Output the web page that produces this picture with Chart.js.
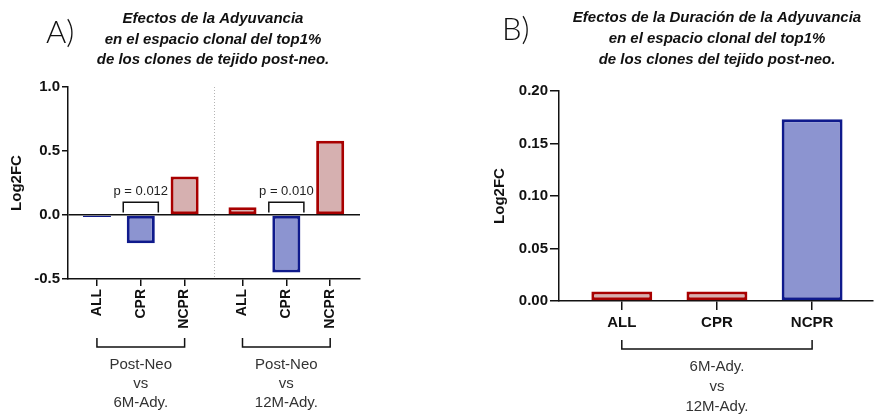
<!DOCTYPE html>
<html>
<head>
<meta charset="utf-8">
<script src="https://cdn.jsdelivr.net/npm/chart.js@4"></script>
<style>
  body { margin: 0; background: #fff; width: 885px; height: 414px; position: relative; overflow: hidden; }
  canvas { position: absolute; top: 0; }
  #chartA { left: 0; }
  #chartB { left: 440px; }
</style>
</head>
<body>
<canvas id="chartA" width="440" height="414"></canvas>
<canvas id="chartB" width="445" height="414"></canvas>
<script>
// ---- panel A data ----
const labelsA = ['ALL', 'CPR', 'NCPR', 'ALL', 'CPR', 'NCPR'];
const valuesA = [-0.015, -0.22, 0.30, 0.06, -0.45, 0.58];
const groupsA = [['Post-Neo', 'vs', '6M-Ady.'], ['Post-Neo', 'vs', '12M-Ady.']];
const pValuesA = ['p = 0.012', 'p = 0.010'];
const yTicksA = [-0.5, 0, 0.5, 1.0];
const titleA = ['Efectos de la Adyuvancia', 'en el espacio clonal del top1%', 'de los clones de tejido post-neo.'];

// ---- panel B data ----
const labelsB = ['ALL', 'CPR', 'NCPR'];
const valuesB = [0.009, 0.009, 0.173];
const groupB = ['6M-Ady.', 'vs', '12M-Ady.'];
const yTicksB = [0, 0.05, 0.10, 0.15, 0.20];
const titleB = ['Efectos de la Duración de la Adyuvancia', 'en el espacio clonal del top1%', 'de los clones del tejido post-neo.'];

// styles
const red = { fill: '#d6b0b0', line: '#a80000' };
const blue = { fill: '#8c94d0', line: '#0f1a8c' };
const coloursA = [blue, blue, red, red, blue, red];
const coloursB = [red, red, blue];

const FONT = '"Liberation Sans", Arial, sans-serif';
Chart.defaults.font.family = FONT;
Chart.defaults.color = '#111';

// x positions: bars 1 unit apart, second group shifted
const GROUP_SHIFT = 3.32;
const posA = labelsA.map((_, i) => Math.floor(i / 3) * GROUP_SHIFT + (i % 3));
const posB = labelsB.map((_, i) => i);

const extras = {
  id: 'extras',
  afterDraw(chart, args, o) {
    const { ctx, chartArea: a, scales: { x, y } } = chart;
    ctx.save();
    ctx.fillStyle = '#111';
    ctx.font = '300 31px Lato, "DejaVu Sans", sans-serif';
    ctx.textAlign = 'left';
    ctx.textBaseline = 'alphabetic';
    ctx.fillText(o.letter, o.letterX, o.letterY);

    ctx.font = 'italic bold 15px ' + FONT;
    ctx.textAlign = 'center';
    o.title.forEach((t, i) => ctx.fillText(t, o.titleX, o.titleY + i * o.titleStep));

    if (o.separator != null) {
      const sx = Math.round(x.getPixelForValue(o.separator)) + 0.5;
      ctx.strokeStyle = '#b4b4b4';
      ctx.lineWidth = 1;
      ctx.setLineDash([1, 2]);
      ctx.beginPath(); ctx.moveTo(sx, a.top); ctx.lineTo(sx, a.bottom); ctx.stroke();
      ctx.setLineDash([]);
    }

    ctx.strokeStyle = '#111';
    ctx.lineWidth = 1.5;
    const unit = x.getPixelForValue(1) - x.getPixelForValue(0);
    (o.pBrackets || []).forEach(b => {
      const cx = x.getPixelForValue(b.at);
      const x0 = cx - unit * 0.4, x1 = cx + unit * 0.4;
      const top = y.getPixelForValue(0.1), foot = y.getPixelForValue(0.02);
      ctx.beginPath();
      ctx.moveTo(x0, foot); ctx.lineTo(x0, top); ctx.lineTo(x1, top); ctx.lineTo(x1, foot);
      ctx.stroke();
      ctx.font = '13px ' + FONT;
      ctx.fillStyle = '#222';
      ctx.fillText(b.text, cx, top - 7);
    });

    o.groups.forEach(g => {
      const x0 = x.getPixelForValue(g.from), x1 = x.getPixelForValue(g.to);
      ctx.beginPath();
      ctx.moveTo(x0, o.groupY - 9); ctx.lineTo(x0, o.groupY); ctx.lineTo(x1, o.groupY); ctx.lineTo(x1, o.groupY - 9);
      ctx.stroke();
      ctx.font = '15px ' + FONT;
      ctx.fillStyle = '#333';
      ctx.textBaseline = 'middle';
      g.lines.forEach((t, i) => ctx.fillText(t, (x0 + x1) / 2, o.groupTextY + i * o.groupStep));
      ctx.textBaseline = 'alphabetic';
    });
    ctx.restore();
  }
};

function barData(pos, vals, cols) {
  return {
    datasets: [{
      data: pos.map((p, i) => ({ x: p, y: vals[i] })),
      backgroundColor: cols.map(c => c.fill),
      borderColor: cols.map(c => c.line),
      borderWidth: 3,
      borderSkipped: false,
      barPercentage: 0.64,
      categoryPercentage: 1
    }]
  };
}

// panel A
new Chart(document.getElementById('chartA'), {
  type: 'bar',
  data: barData(posA, valuesA, coloursA),
  plugins: [extras],
  options: {
    responsive: false,
    animation: false,
    layout: { padding: { top: 87, left: 0, right: 80, bottom: 85 } },
    plugins: {
      legend: { display: false },
      tooltip: { enabled: false },
      extras: {
        letter: 'A)', letterX: 46, letterY: 43,
        title: titleA, titleX: 213, titleY: 23, titleStep: 20.5,
        separator: 2 + (GROUP_SHIFT - 2) / 2,
        pBrackets: [{ at: posA[1], text: pValuesA[0] }, { at: posA[4], text: pValuesA[1] }],
        groups: [
          { from: posA[0], to: posA[2], lines: groupsA[0] },
          { from: posA[3], to: posA[5], lines: groupsA[1] }
        ],
        groupY: 347, groupTextY: 365, groupStep: 19
      }
    },
    scales: {
      x: {
        type: 'linear', min: -0.66, max: 6.0, offset: false,
        afterBuildTicks: s => { s.ticks = posA.map(v => ({ value: v })); },
        afterFit: s => { s.height = 50; },
        ticks: {
          callback: (v, i) => labelsA[i],
          minRotation: 90, maxRotation: 90, autoSkip: false,
          font: { size: 14, weight: 'bold' }, padding: 3
        },
        grid: { offset: false, drawOnChartArea: false, tickColor: '#111', tickLength: 7, lineWidth: 1.5 },
        border: { color: '#111', width: 1.5 }
      },
      y: {
        min: -0.5, max: 1,
        afterBuildTicks: s => { s.ticks = yTicksA.map(v => ({ value: v })); },
        afterFit: s => { s.width = 68; },
        ticks: { callback: v => v.toFixed(1), font: { size: 15, weight: 'bold' }, padding: 2 },
        grid: {
          color: c => (c.tick && c.tick.value === 0 ? '#111' : 'rgba(0,0,0,0)'),
          lineWidth: 1.5, tickColor: '#111', tickLength: 6
        },
        border: { color: '#111', width: 1.5 },
        title: { display: true, text: 'Log2FC', font: { size: 15, weight: 'bold' }, padding: { top: 8, bottom: 0 } }
      }
    }
  }
});

// panel B
new Chart(document.getElementById('chartB'), {
  type: 'bar',
  data: barData(posB, valuesB, coloursB),
  plugins: [extras],
  options: {
    responsive: false,
    animation: false,
    layout: { padding: { top: 91, left: 40, right: 12, bottom: 83 } },
    plugins: {
      legend: { display: false },
      tooltip: { enabled: false },
      extras: {
        letter: 'B)', letterX: 62, letterY: 40,
        title: titleB, titleX: 277, titleY: 22, titleStep: 21,
        groups: [{ from: posB[0], to: posB[2], lines: groupB }],
        groupY: 349, groupTextY: 367, groupStep: 20
      }
    },
    scales: {
      x: {
        type: 'linear', min: -0.66, max: 2.64, offset: false,
        afterBuildTicks: s => { s.ticks = posB.map(v => ({ value: v })); },
        afterFit: s => { s.height = 30; },
        ticks: {
          callback: (v, i) => labelsB[i],
          minRotation: 0, maxRotation: 0, autoSkip: false,
          font: { size: 15, weight: 'bold' }, padding: 4
        },
        grid: { offset: false, drawOnChartArea: false, tickColor: '#111', tickLength: 9, lineWidth: 1.5 },
        border: { color: '#111', width: 1.5 }
      },
      y: {
        min: 0, max: 0.2,
        afterBuildTicks: s => { s.ticks = yTicksB.map(v => ({ value: v })); },
        afterFit: s => { s.width = 79; },
        ticks: { callback: v => v.toFixed(2), font: { size: 15, weight: 'bold' }, padding: 2 },
        grid: { drawOnChartArea: false, tickColor: '#111', tickLength: 9, lineWidth: 1.5 },
        border: { color: '#111', width: 1.5 },
        title: { display: true, text: 'Log2FC', font: { size: 15, weight: 'bold' }, padding: { top: 11, bottom: 0 } }
      }
    }
  }
});
</script>
</body>
</html>
